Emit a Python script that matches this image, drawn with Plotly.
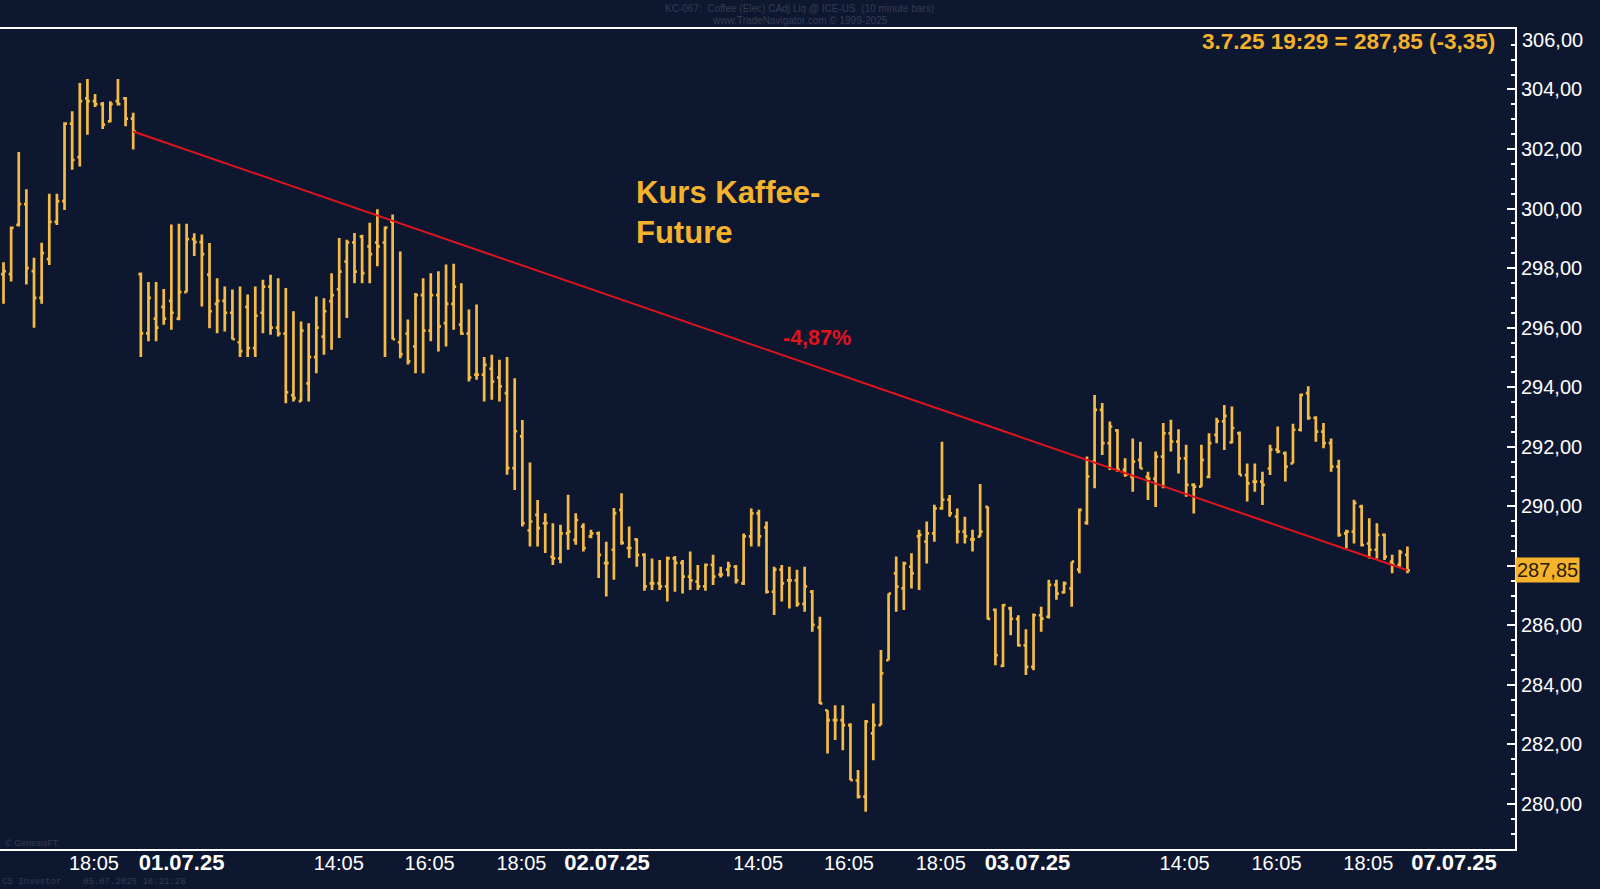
import plotly.graph_objects as go

# ---------------- data (10-minute bars, KC coffee future) ----------------
open_ = [297.8, 297.8, 299.45, 300.15, 297.9, 297.0, 298.3, 299.55, 300.25, 302.85,
         301.73, 303.7, 303.61, 303.51, 302.93, 303.61, 303.7, 303.02, 297.8, 295.81,
         296.3, 296.7, 296.9, 296.3, 297.19, 298.97, 298.87, 297.78, 296.8, 296.9,
         296.5, 295.51, 296.7, 295.31, 296.5, 297.38, 296.0, 295.8, 293.73, 293.53,
         294.13, 295.01, 295.7, 296.89, 297.29, 298.22, 298.86, 299.06, 298.73, 298.86,
         298.86, 299.56, 295.51, 295.8, 295.37, 297.09, 295.9, 297.09, 296.15, 296.8,
         296.1, 295.8, 294.42, 294.42, 294.62, 294.32, 293.8, 291.28, 292.35, 289.19,
         289.71, 289.43, 288.3, 288.25, 289.09, 288.87, 289.32, 288.99, 289.09, 288.09,
         288.54, 289.88, 288.6, 288.89, 288.37, 287.41, 287.41, 287.31, 288.25, 288.1,
         287.64, 287.47, 287.31, 288.03, 287.71, 287.87, 287.97, 287.41, 288.99, 289.76,
         289.29, 287.13, 287.87, 287.51, 287.51, 286.72, 287.13, 285.93, 283.15, 282.82,
         282.82, 282.65, 280.79, 280.25, 282.37, 282.65, 284.83, 287.75, 287.24, 287.97,
         288.99, 288.81, 289.09, 289.93, 290.22, 289.65, 289.15, 288.89, 288.98, 289.98,
         286.52, 284.64, 286.57, 286.22, 285.33, 284.61, 286.34, 286.29, 287.36, 287.11,
         287.24, 287.87, 289.44, 291.5, 293.24, 292.12, 292.55, 291.22, 290.99, 291.56,
         290.99, 290.93, 291.67, 292.45, 292.17, 291.61, 290.72, 290.66, 290.99, 292.4,
         292.85, 292.15, 292.45, 291.05, 290.83, 290.83, 291.27, 291.9, 291.78, 291.44,
         292.57, 293.8, 292.97, 292.51, 292.12, 291.33, 289.09, 289.15, 289.99, 288.75,
         288.54, 289.04, 288.14, 288.03, 288.37]
high = [298.2, 299.4, 301.9, 300.65, 298.35, 298.85, 300.5, 300.5, 302.9, 303.27,
        304.22, 304.35, 303.85, 303.58, 303.6, 304.35, 303.75, 303.22, 297.85, 297.53,
        297.53, 297.3, 299.46, 299.49, 299.49, 299.17, 299.13, 298.84, 297.66, 297.38,
        297.28, 297.38, 297.11, 297.38, 297.61, 297.78, 297.66, 297.33, 296.55, 296.21,
        296.15, 297.05, 296.99, 297.83, 299.01, 298.95, 299.18, 299.12, 299.52, 299.98,
        299.4, 299.8, 298.56, 296.27, 297.16, 297.66, 297.83, 297.89, 298.12, 298.15,
        297.49, 296.61, 296.78, 295.01, 295.09, 294.92, 295.01, 294.3, 292.9, 291.47,
        290.21, 289.77, 289.43, 289.38, 290.39, 289.77, 289.43, 289.21, 289.15, 288.81,
        289.94, 290.44, 289.32, 288.93, 288.42, 288.25, 288.2, 288.31, 288.33, 288.2,
        288.48, 288.03, 288.08, 288.37, 287.97, 288.14, 288.03, 289.09, 289.93, 289.88,
        289.49, 287.97, 288.03, 287.97, 287.87, 287.97, 287.19, 286.29, 283.15, 283.32,
        283.32, 282.71, 281.14, 282.82, 283.38, 285.17, 287.07, 288.31, 288.14, 288.42,
        289.21, 289.49, 290.05, 292.17, 290.38, 289.93, 289.65, 289.21, 290.75, 289.99,
        286.57, 286.72, 286.63, 286.34, 285.87, 286.4, 286.63, 287.53, 287.53, 287.47,
        288.14, 289.93, 291.67, 293.74, 293.47, 292.85, 292.59, 291.61, 292.28, 292.17,
        291.16, 291.84, 292.8, 292.91, 292.59, 292.07, 290.77, 292.07, 292.45, 292.97,
        293.4, 293.35, 292.51, 291.44, 291.44, 291.16, 292.07, 292.68, 291.84, 292.77,
        293.78, 294.03, 293.02, 292.8, 292.28, 291.56, 289.21, 290.22, 290.05, 289.6,
        289.43, 289.09, 288.37, 288.54, 288.65]
low = [296.8, 297.55, 299.4, 297.45, 296.0, 296.8, 298.1, 299.45, 299.95, 301.3,
       301.41, 302.48, 303.41, 302.67, 302.9, 303.46, 302.76, 301.98, 295.01, 295.54,
       295.54, 296.1, 295.93, 296.25, 297.19, 298.41, 296.71, 295.98, 295.81, 295.87,
       295.6, 295.01, 295.01, 295.01, 295.81, 295.76, 295.7, 293.46, 293.52, 293.52,
       293.52, 294.47, 295.09, 295.26, 295.65, 296.32, 297.49, 297.49, 297.49, 298.06,
       295.01, 295.6, 294.97, 294.76, 294.47, 294.47, 295.54, 295.2, 295.37, 295.93,
       295.76, 294.19, 294.25, 293.52, 293.58, 293.52, 291.06, 290.55, 289.32, 288.65,
       288.65, 288.43, 288.03, 288.09, 288.54, 288.71, 288.48, 288.93, 287.59, 286.97,
       287.53, 288.71, 288.26, 287.97, 287.16, 287.19, 287.19, 286.8, 287.13, 287.07,
       287.19, 287.19, 287.16, 287.36, 287.61, 287.64, 287.41, 287.36, 288.65, 288.65,
       287.07, 286.35, 286.8, 286.57, 286.63, 286.46, 285.79, 283.36, 281.7, 282.15,
       281.81, 280.8, 280.19, 279.74, 281.47, 282.65, 284.83, 286.46, 286.52, 287.24,
       287.19, 288.08, 288.81, 289.88, 289.65, 288.75, 288.75, 288.48, 288.98, 286.2,
       284.66, 284.6, 285.67, 285.29, 284.33, 284.49, 285.79, 286.23, 286.86, 287.07,
       286.63, 287.75, 289.38, 290.61, 291.72, 291.22, 291.16, 290.99, 290.49, 291.27,
       290.21, 289.98, 290.61, 291.84, 291.1, 290.32, 289.76, 290.66, 290.94, 292.12,
       291.89, 292.12, 291.05, 290.16, 290.49, 290.04, 291.05, 291.78, 290.83, 291.44,
       292.51, 292.91, 292.17, 291.95, 291.16, 288.98, 288.59, 288.75, 288.65, 288.25,
       288.25, 288.2, 287.75, 287.97, 287.75]
close = [297.9, 299.35, 300.15, 298.0, 297.0, 298.5, 299.55, 300.25, 302.85, 301.63,
         303.61, 303.61, 303.51, 302.82, 303.51, 303.51, 303.02, 302.59, 295.81, 297.0,
         296.0, 296.3, 296.5, 297.19, 298.97, 298.87, 298.47, 296.55, 296.9, 296.5,
         295.61, 295.21, 295.31, 296.4, 297.38, 296.0, 295.8, 293.83, 293.63, 295.9,
         295.01, 296.0, 296.55, 297.09, 297.88, 298.86, 297.88, 297.83, 298.47, 298.73,
         299.36, 295.61, 295.11, 294.87, 297.09, 295.9, 297.09, 296.04, 296.8, 297.38,
         295.8, 294.32, 294.42, 294.75, 294.19, 294.03, 291.28, 292.52, 289.43, 289.49,
         289.27, 289.43, 288.25, 289.09, 289.15, 289.54, 288.6, 289.09, 288.37, 288.09,
         289.77, 288.77, 288.6, 288.37, 287.31, 287.41, 287.31, 288.25, 288.1, 287.64,
         287.51, 287.31, 288.03, 287.64, 287.71, 288.0, 287.51, 288.99, 289.76, 288.99,
         287.13, 287.87, 287.41, 287.51, 286.72, 287.31, 286.02, 283.38, 282.82, 282.82,
         282.65, 280.8, 280.25, 282.77, 282.65, 284.39, 287.07, 287.3, 288.08, 287.75,
         289.04, 289.09, 289.93, 290.22, 289.76, 289.15, 288.99, 288.89, 289.15, 286.22,
         285.0, 286.68, 286.22, 285.33, 284.61, 286.34, 286.23, 287.36, 287.07, 287.41,
         288.14, 289.88, 291.0, 293.24, 292.12, 292.68, 291.22, 291.06, 291.5, 291.27,
         290.93, 291.67, 292.45, 292.17, 291.61, 290.72, 290.66, 291.56, 292.12, 292.85,
         293.04, 292.63, 291.05, 290.77, 290.83, 290.72, 291.9, 291.84, 291.33, 292.57,
         293.74, 292.97, 292.51, 292.12, 291.33, 289.04, 289.15, 290.11, 288.7, 288.54,
         289.04, 288.31, 288.03, 288.45, 287.85]
bar_index = list(range(len(close)))

# trend line: from the close of 30.06 to the last close
trend_start_idx = 17
trend_end_idx = 184
trend_label = "-4,87%"

# axis labels
x_tick_pos = [11.85, 23.34, 43.94, 55.85, 67.88, 79.1, 98.91, 110.81, 122.84, 134.2,
              154.8, 166.84, 178.88, 190.1]
x_tick_text = ["18:05", "01.07.25", "14:05", "16:05", "18:05", "02.07.25", "14:05",
               "16:05", "18:05", "03.07.25", "14:05", "16:05", "18:05", "07.07.25"]
y_tick_vals = [280, 282, 284, 286, 288, 290, 292, 294, 296, 298, 300, 302, 304, 306]
# 288,00 is hidden behind the last-price marker in the reference
y_tick_text = ["280,00", "282,00", "284,00", "286,00", "", "290,00", "292,00",
               "294,00", "296,00", "298,00", "300,00", "302,00", "304,00", ""]
top_label_text = "306,00"
last_price_text = "287,85"
quote_text = "3.7.25 19:29 = 287,85 (-3,35)"
title_text = "Kurs Kaffee-<br>Future"
header_line1 = "KC-067:  Coffee (Elec) CAdj Liq @ ICE-US  (10 minute bars)"
header_line2 = "www.TradeNavigator.com © 1999-2025"
footer_left = "CS Investor    05.07.2025 16:21:28"
copyright_text = "© GenesisFT"

# ---------------- styling ----------------
BG = "#0e1730"
BAR = "#f5bc45"
GOLD = "#f5b22c"
RED = "#e0141c"
DIM = "#353c50"
FONT = "Liberation Sans, Arial, sans-serif"


def fmt_tick(t):
    if "." in t:
        return "<b><span style='font-size:22px'>" + t + "</span></b>"
    return t


fig = go.Figure()
fig.add_trace(go.Ohlc(
    x=bar_index, open=open_, high=high, low=low, close=close,
    increasing=dict(line=dict(color=BAR, width=2.7)),
    decreasing=dict(line=dict(color=BAR, width=2.7)),
    tickwidth=0.32, hoverinfo="skip", showlegend=False,
))
fig.add_trace(go.Scatter(
    x=[bar_index[trend_start_idx], bar_index[trend_end_idx]],
    y=[close[trend_start_idx], close[trend_end_idx]],
    mode="lines", line=dict(color=RED, width=2), hoverinfo="skip", showlegend=False,
))

annotations = [
    dict(text=title_text, xref="paper", yref="paper", x=0.4185, y=0.776,
         xanchor="left", yanchor="middle", align="left", showarrow=False,
         font=dict(family=FONT, size=31, color=GOLD, weight="bold")),
    dict(text="<b>" + trend_label + "</b>", xref="paper", yref="paper", x=0.539, y=0.623,
         xanchor="center", yanchor="middle", showarrow=False,
         font=dict(family=FONT, size=21.5, color=RED)),
    dict(text="<b>" + quote_text + "</b>", xref="paper", yref="paper", x=0.988, y=0.985,
         xanchor="right", yanchor="middle", showarrow=False,
         font=dict(family=FONT, size=22.5, color=GOLD)),
    dict(text=last_price_text, xref="paper", yref="y", x=1.0, y=close[-1],
         xanchor="left", yanchor="middle", showarrow=False, bgcolor=GOLD,
         borderpad=1, font=dict(family=FONT, size=20, color="#2a1c00")),
    dict(text=top_label_text, xref="paper", yref="y", x=1.0, y=y_tick_vals[-1],
         xanchor="left", yanchor="middle", xshift=5, yshift=-10, showarrow=False,
         font=dict(family=FONT, size=20, color="white")),
    dict(text=header_line1, xref="paper", yref="paper", x=0.528, y=1.0, yshift=21,
         xanchor="center", yanchor="middle", showarrow=False,
         font=dict(family=FONT, size=10, color=DIM)),
    dict(text=header_line2, xref="paper", yref="paper", x=0.528, y=1.0, yshift=9,
         xanchor="center", yanchor="middle", showarrow=False,
         font=dict(family=FONT, size=10, color=DIM)),
    dict(text=copyright_text, xref="paper", yref="paper", x=0.002, y=0.0, yshift=6,
         xanchor="left", yanchor="middle", showarrow=False,
         font=dict(family=FONT, size=9, color=DIM)),
    dict(text=footer_left, xref="paper", yref="paper", x=0.0, y=0.0, yshift=-33,
         xanchor="left", yanchor="middle", showarrow=False,
         font=dict(family="Liberation Mono, monospace", size=9, color=DIM)),
]

fig.update_layout(
    width=1600, height=889,
    margin=dict(l=0, r=85, t=29, b=40),
    paper_bgcolor=BG, plot_bgcolor=BG,
    showlegend=False,
    font=dict(family=FONT, color="white", size=20),
    annotations=annotations,
    xaxis=dict(
        range=[-0.459, 198.1], showgrid=False, zeroline=False,
        showline=True, linecolor="white", linewidth=2, mirror=True,
        tickmode="array", tickvals=x_tick_pos,
        ticktext=[fmt_tick(t) for t in x_tick_text],
        ticks="", ticklabelstandoff=-5,
        tickfont=dict(family=FONT, size=20, color="white"),
        rangeslider=dict(visible=False), fixedrange=True,
    ),
    yaxis=dict(
        side="right", range=[278.49, 306.03], showgrid=False, zeroline=False,
        showline=True, linecolor="white", linewidth=2, mirror=False,
        tickmode="array", tickvals=y_tick_vals, ticktext=y_tick_text,
        ticks="inside", ticklen=8, tickwidth=1.5, tickcolor="white",
        minor=dict(dtick=0.5, tick0=280, ticks="inside", ticklen=4, tickwidth=1.5,
                   tickcolor="white", showgrid=False),
        tickfont=dict(family=FONT, size=20, color="white"),
    ),
)

fig.write_html(
    "out.html",
    config={"displayModeBar": False},
    post_script="document.body.style.margin='0';document.body.style.background='" + BG + "';",
)
